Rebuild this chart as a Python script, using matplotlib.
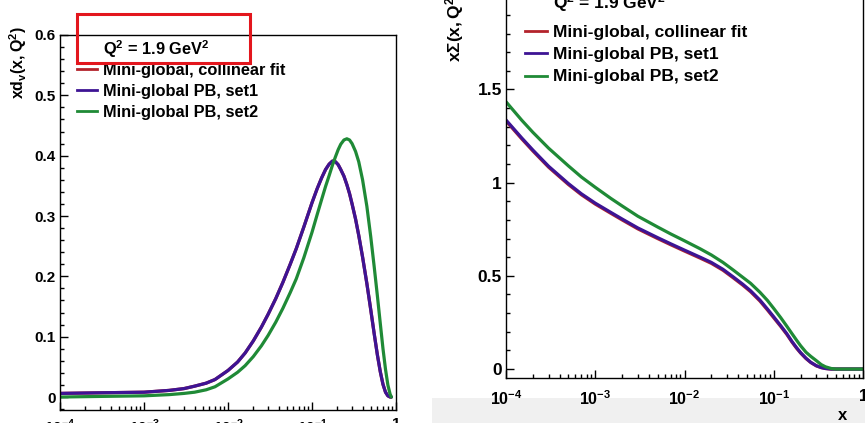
import numpy as np
import matplotlib
matplotlib.use('Agg')
import matplotlib.pyplot as plt
import matplotlib.patches as patches
from matplotlib.lines import Line2D
from matplotlib.ticker import LogLocator, MultipleLocator, FixedLocator, FuncFormatter, NullFormatter

plt.rcParams['font.family'] = ['Liberation Sans', 'DejaVu Sans']
plt.rcParams['font.weight'] = 'bold'
plt.rcParams['mathtext.fontset'] = 'custom'
plt.rcParams['mathtext.rm'] = 'Liberation Sans:bold'
plt.rcParams['mathtext.bf'] = 'Liberation Sans:bold'
plt.rcParams['mathtext.it'] = 'Liberation Sans:bold'
plt.rcParams['mathtext.default'] = 'bf'

# ---- data: x d_v(x,Q^2) at Q^2 = 1.9 GeV^2 (left)
x_dv = [1e-4, 3e-4, 1e-3, 2e-3, 3e-3, 4e-3, 5.5e-3, 7e-3, 0.01, 0.013, 0.016, 0.02, 0.025, 0.03,
        0.037, 0.045, 0.055, 0.065, 0.08, 0.1, 0.115, 0.13, 0.145, 0.16, 0.175, 0.19, 0.205,
        0.22, 0.24, 0.26, 0.28, 0.3, 0.33, 0.36, 0.4, 0.45, 0.5, 0.55, 0.6, 0.65, 0.7, 0.75,
        0.8, 0.85, 0.88]
dv_set1 = [0.006, 0.007, 0.008, 0.011, 0.014, 0.018, 0.023, 0.029, 0.044, 0.058, 0.073, 0.093,
           0.116, 0.137, 0.163, 0.190, 0.220, 0.246, 0.282, 0.322, 0.345, 0.363, 0.377, 0.386,
           0.391, 0.390, 0.385, 0.377, 0.366, 0.352, 0.337, 0.320, 0.295, 0.268, 0.232, 0.188,
           0.145, 0.105, 0.070, 0.042, 0.021, 0.008, 0.002, 0.0, 0.0]
dv_collinear = [0.006, 0.007, 0.008, 0.011, 0.014, 0.018, 0.023, 0.029, 0.044, 0.058, 0.073, 0.093,
                0.116, 0.137, 0.163, 0.190, 0.220, 0.246, 0.282, 0.322, 0.345, 0.363, 0.377, 0.386,
                0.391, 0.390, 0.385, 0.377, 0.366, 0.352, 0.337, 0.320, 0.295, 0.268, 0.232, 0.188,
                0.145, 0.105, 0.070, 0.042, 0.021, 0.008, 0.002, 0.0, 0.0]
dv_set2 = [0.0, 0.001, 0.002, 0.004, 0.006, 0.008, 0.012, 0.017, 0.030, 0.041, 0.052, 0.067,
           0.085, 0.102, 0.124, 0.147, 0.173, 0.196, 0.231, 0.273, 0.302, 0.327, 0.349, 0.367,
           0.384, 0.398, 0.410, 0.419, 0.426, 0.428, 0.426, 0.420, 0.407, 0.390, 0.360, 0.316,
           0.266, 0.216, 0.168, 0.122, 0.080, 0.046, 0.020, 0.005, 0.0]

# ---- data: x Sigma(x,Q^2) (right)
x_sig = [1e-4, 1.5e-4, 2e-4, 3e-4, 5e-4, 7e-4, 1e-3, 1.5e-3, 2e-3, 3e-3, 5e-3, 7e-3, 0.01, 0.015,
         0.02, 0.027, 0.035, 0.045, 0.055, 0.07, 0.085, 0.1, 0.12, 0.14, 0.16, 0.18, 0.2, 0.23,
         0.26, 0.3, 0.34, 0.38, 0.44, 0.5, 0.7, 1.0]
sig_set1 = [1.336, 1.240, 1.175, 1.088, 0.995, 0.940, 0.890, 0.840, 0.805, 0.757, 0.705, 0.672,
            0.638, 0.600, 0.572, 0.535, 0.495, 0.455, 0.420, 0.370, 0.322, 0.280, 0.232, 0.190,
            0.148, 0.115, 0.088, 0.058, 0.036, 0.018, 0.008, 0.003, 0.0, 0.0, 0.0, 0.0]
sig_collinear = [1.331, 1.235, 1.170, 1.083, 0.990, 0.935, 0.885, 0.835, 0.800, 0.752, 0.700,
                 0.667, 0.633, 0.595, 0.567, 0.530, 0.490, 0.450, 0.415, 0.365, 0.317, 0.275,
                 0.228, 0.186, 0.145, 0.112, 0.086, 0.056, 0.035, 0.017, 0.008, 0.003, 0.0, 0.0,
                 0.0, 0.0]
sig_set2 = [1.434, 1.335, 1.270, 1.185, 1.090, 1.030, 0.975, 0.915, 0.875, 0.820, 0.762, 0.725,
            0.688, 0.645, 0.612, 0.572, 0.532, 0.492, 0.460, 0.412, 0.368, 0.325, 0.275, 0.230,
            0.190, 0.155, 0.125, 0.090, 0.068, 0.045, 0.024, 0.012, 0.003, 0.0, 0.0, 0.0]

labels = ['Mini-global, collinear fit', 'Mini-global PB, set1', 'Mini-global PB, set2']
colors = ['#b3232b', '#3d1494', '#1f8a36']
header = r'Q$^{2}$ = 1.9 GeV$^{2}$'

W, H = 865, 423
def fx(px): return px / W
def fy(py): return 1 - py / H

fig = plt.figure(figsize=(W / 100, H / 100), dpi=100)

# light grey strip under the right screenshot
fig.add_artist(patches.Rectangle((fx(432), 0), fx(865) - fx(432), fy(398), transform=fig.transFigure,
                                 facecolor='#f0f0f0', edgecolor='none', zorder=-5))

axL = fig.add_axes([fx(60), fy(410), fx(396) - fx(60), fy(35) - fy(410)])
axR = fig.add_axes([fx(506), fy(378), fx(863) - fx(506), fy(-22.4) - fy(378)])


def xfmt(v, pos):
    if abs(v - 1) < 1e-9:
        return '1'
    return r'$10^{%d}$' % int(round(np.log10(v)))


def style(ax, ylo, yhi, yticks, ymin, fsx, fsy, xpad):
    ax.set_xscale('log')
    ax.set_xlim(1e-4, 1)
    ax.set_ylim(ylo, yhi)
    ax.xaxis.set_major_locator(LogLocator(base=10, numticks=10))
    ax.xaxis.set_minor_locator(LogLocator(base=10, subs=np.arange(2, 10), numticks=10))
    ax.xaxis.set_major_formatter(FuncFormatter(xfmt))
    ax.xaxis.set_minor_formatter(NullFormatter())
    ax.yaxis.set_major_locator(FixedLocator(yticks))
    ax.yaxis.set_minor_locator(MultipleLocator(ymin))
    ax.yaxis.set_major_formatter(FuncFormatter(lambda v, p: '0' if abs(v) < 1e-9 else '%g' % v))
    ax.tick_params(axis='both', which='both', direction='in', top=False, right=False, width=1.0)
    ax.tick_params(axis='y', which='major', length=6, pad=3, labelsize=fsy)
    ax.tick_params(axis='y', which='minor', length=3)
    ax.tick_params(axis='x', which='major', length=5.5, pad=xpad, labelsize=fsx)
    ax.tick_params(axis='x', which='minor', length=2.8)
    for s in ax.spines.values():
        s.set_linewidth(1.0)


style(axL, -0.0215, 0.6, [0, 0.1, 0.2, 0.3, 0.4, 0.5, 0.6], 0.02, 11, 11, 5)
style(axR, -0.048, 2.1, [0, 0.5, 1.0, 1.5], 0.1, 11.5, 12.5, 8)

for y, c in zip([dv_collinear, dv_set1, dv_set2], colors):
    axL.plot(x_dv, y, color=c, lw=2.3, solid_capstyle='round')
for y, c in zip([sig_collinear, sig_set1, sig_set2], colors):
    axR.plot(x_sig, y, color=c, lw=2.3, solid_capstyle='round')


def legend_block(x0, x1, xt, baselines, fs):
    fig.text(fx(xt), fy(baselines[0]), header, fontsize=fs, va='baseline', ha='left')
    for b, lab, c in zip(baselines[1:], labels, colors):
        fig.text(fx(xt), fy(b), lab, fontsize=fs, va='baseline', ha='left')
        fig.add_artist(Line2D([fx(x0), fx(x1)], [fy(b - 5.5), fy(b - 5.5)], color=c, lw=2.0,
                              transform=fig.transFigure))


legend_block(77, 97, 103, [55, 75, 96, 117], 11.8)
legend_block(525, 547, 553, [8.5, 36.5, 59, 81.5], 12.5)

# axis titles
fig.text(fx(18), fy(63), r'$xd_{v}(x,Q^{2})$', rotation=90, fontsize=11.5, ha='center', va='center')
fig.text(fx(455), fy(62), r'$x\Sigma(x,Q^{2})$', rotation=90, fontsize=12.5, ha='center', va='bottom')
fig.text(fx(843), fy(415), 'x', fontsize=12, ha='center', va='center')

# red highlight box
fig.add_artist(patches.Rectangle((fx(77), fy(63)), fx(250) - fx(77), fy(14) - fy(63),
                                 transform=fig.transFigure, fill=False, edgecolor='#e3161d',
                                 lw=2.2, zorder=10))

fig.savefig('out.png', dpi=100)
